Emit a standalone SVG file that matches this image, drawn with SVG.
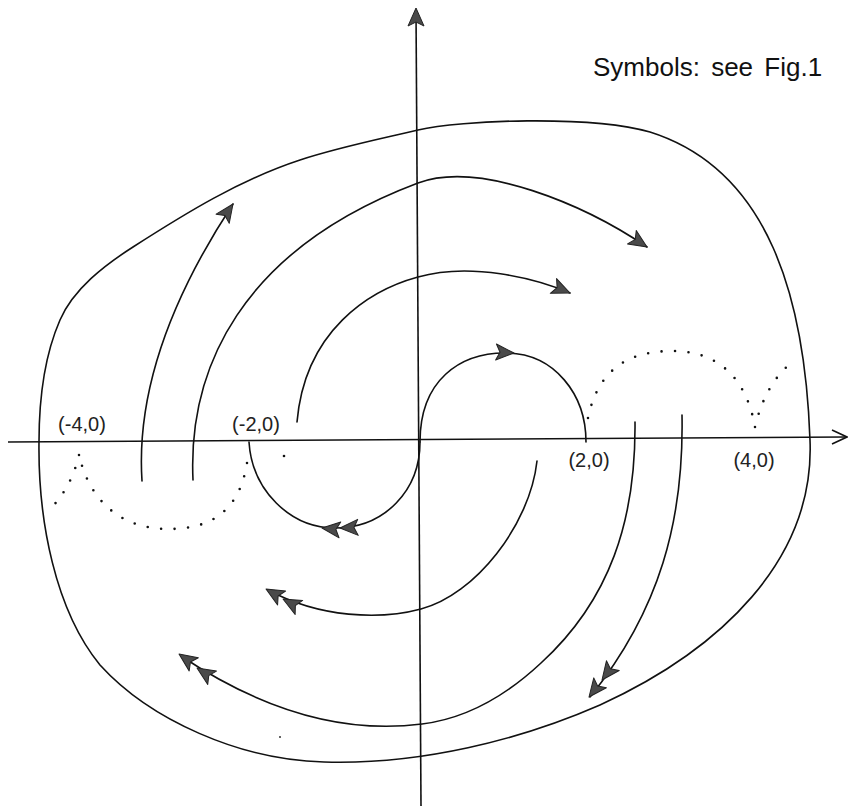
<svg xmlns="http://www.w3.org/2000/svg" xmlns:xlink="http://www.w3.org/1999/xlink" width="848" height="809" viewBox="0 0 848 809">
<style>
  .ln{fill:none;stroke:#111;stroke-width:1.6;stroke-linecap:round;stroke-linejoin:round}
  .ax{fill:none;stroke:#111;stroke-width:1.6}
  .dot{fill:none;stroke:#111;stroke-width:2.6;stroke-linecap:round;stroke-dasharray:0 13.5}
  .ah{fill:#4a4a4a;stroke:#222;stroke-width:1;stroke-linejoin:round}
  .lbl{font-family:"Liberation Sans",Arial,sans-serif;font-size:20px;fill:#222;text-anchor:middle}
  .note{font-family:"Liberation Sans",Arial,sans-serif;font-size:26px;fill:#111;word-spacing:4px}
</style>
<defs>
  <path id="ah" d="M0,0 L-18,-8 L-14,0 L-18,8 Z"/>
</defs>
<rect width="848" height="809" fill="#fff"/>
<g id="axes">
  <path class="ax" d="M8,442 L846,437"/>
  <path class="ax" d="M832,430 L847,437 L832,444"/>
  <path class="ax" d="M416,10 L421,806"/>
  <use href="#ah" class="ah" transform="translate(416,8) rotate(-90)"/>
</g>
<g id="connectors">
  <path id="outer" class="ln" d="M39,442 C39,401 43.6,357.6 60,320 C73.6,288.9 104.4,265.3 133,247 C186,213 240,179.7 300,160 C338.6,147.3 378.5,139.4 418,130 C460,120 590,115 650,132 C770,170 805,300 810,440 C815,560 720,650 600,705 C520,740 420,765 324,762 C240,760 150,720 100,665 C55,610 38,520 39,442 Z"/>
  <path id="c2" class="ln" d="M142,481 C138,420 150,330 233,204"/>
  <path id="c3" class="ln" d="M193,480 C188,370 240,250 418,183 C480,160 585,205 647,247"/>
  <path id="c4" class="ln" d="M297,422 C305,330 370,290 418,277 C470,262 535,278 570,293"/>
  <path id="c5" class="ln" d="M420,442 C420,380 460,353 505,353 C555,353 586,395 586,442"/>
  <path id="c6" class="ln" d="M249,442 C252,490 290,528 335,528 C385,528 420,490 420,442"/>
  <path id="c7" class="ln" d="M537,461 C530,525 475,595 421,609 C380,620 320,618 268,590"/>
  <path id="c8" class="ln" d="M635,422 C636,520 610,600 541,663 C510,692 470,718 422,724 C360,732 280,722 181,656"/>
  <path id="c9" class="ln" d="M682,415 C684,520 660,610 590,697"/>
  <path class="dot" d="M588,418 C600,360 640,351 673,351 C710,351 745,370 755,427"/>
  <path class="dot" d="M755,427 Q765,385 790,364"/>
  <path class="dot" d="M247,463 C238,520 200,529 168,529 C130,529 92,510 79,455"/>
  <path class="dot" d="M79,455 Q72,485 53,506"/>
  <circle cx="284" cy="456" r="1.3" fill="#111"/>
  <circle cx="280" cy="737" r="1" fill="#333"/>
</g>
<g id="arrowheads">
  <use href="#ah" class="ah" transform="translate(233,204) rotate(-55)"/>
  <use href="#ah" class="ah" transform="translate(647,247) rotate(33)"/>
  <use href="#ah" class="ah" transform="translate(570,293) rotate(23)"/>
  <use href="#ah" class="ah" transform="translate(514,353) rotate(3)"/>
  <use href="#ah" class="ah" transform="translate(322,528) rotate(186)"/>
  <use href="#ah" class="ah" transform="translate(340,528) rotate(178)"/>
  <use href="#ah" class="ah" transform="translate(266,589) rotate(210)"/>
  <use href="#ah" class="ah" transform="translate(283,599) rotate(208)"/>
  <use href="#ah" class="ah" transform="translate(179,654) rotate(215)"/>
  <use href="#ah" class="ah" transform="translate(197,668) rotate(213)"/>
  <use href="#ah" class="ah" transform="translate(602,680) rotate(127)"/>
  <use href="#ah" class="ah" transform="translate(589,697) rotate(128)"/>
</g>
<g id="labels">
  <text class="lbl" x="82" y="431">(-4,0)</text>
  <text class="lbl" x="256" y="431">(-2,0)</text>
  <text class="lbl" x="589" y="467">(2,0)</text>
  <text class="lbl" x="754" y="467">(4,0)</text>
  <text class="note" x="593" y="76">Symbols: see Fig.1</text>
</g>
</svg>
